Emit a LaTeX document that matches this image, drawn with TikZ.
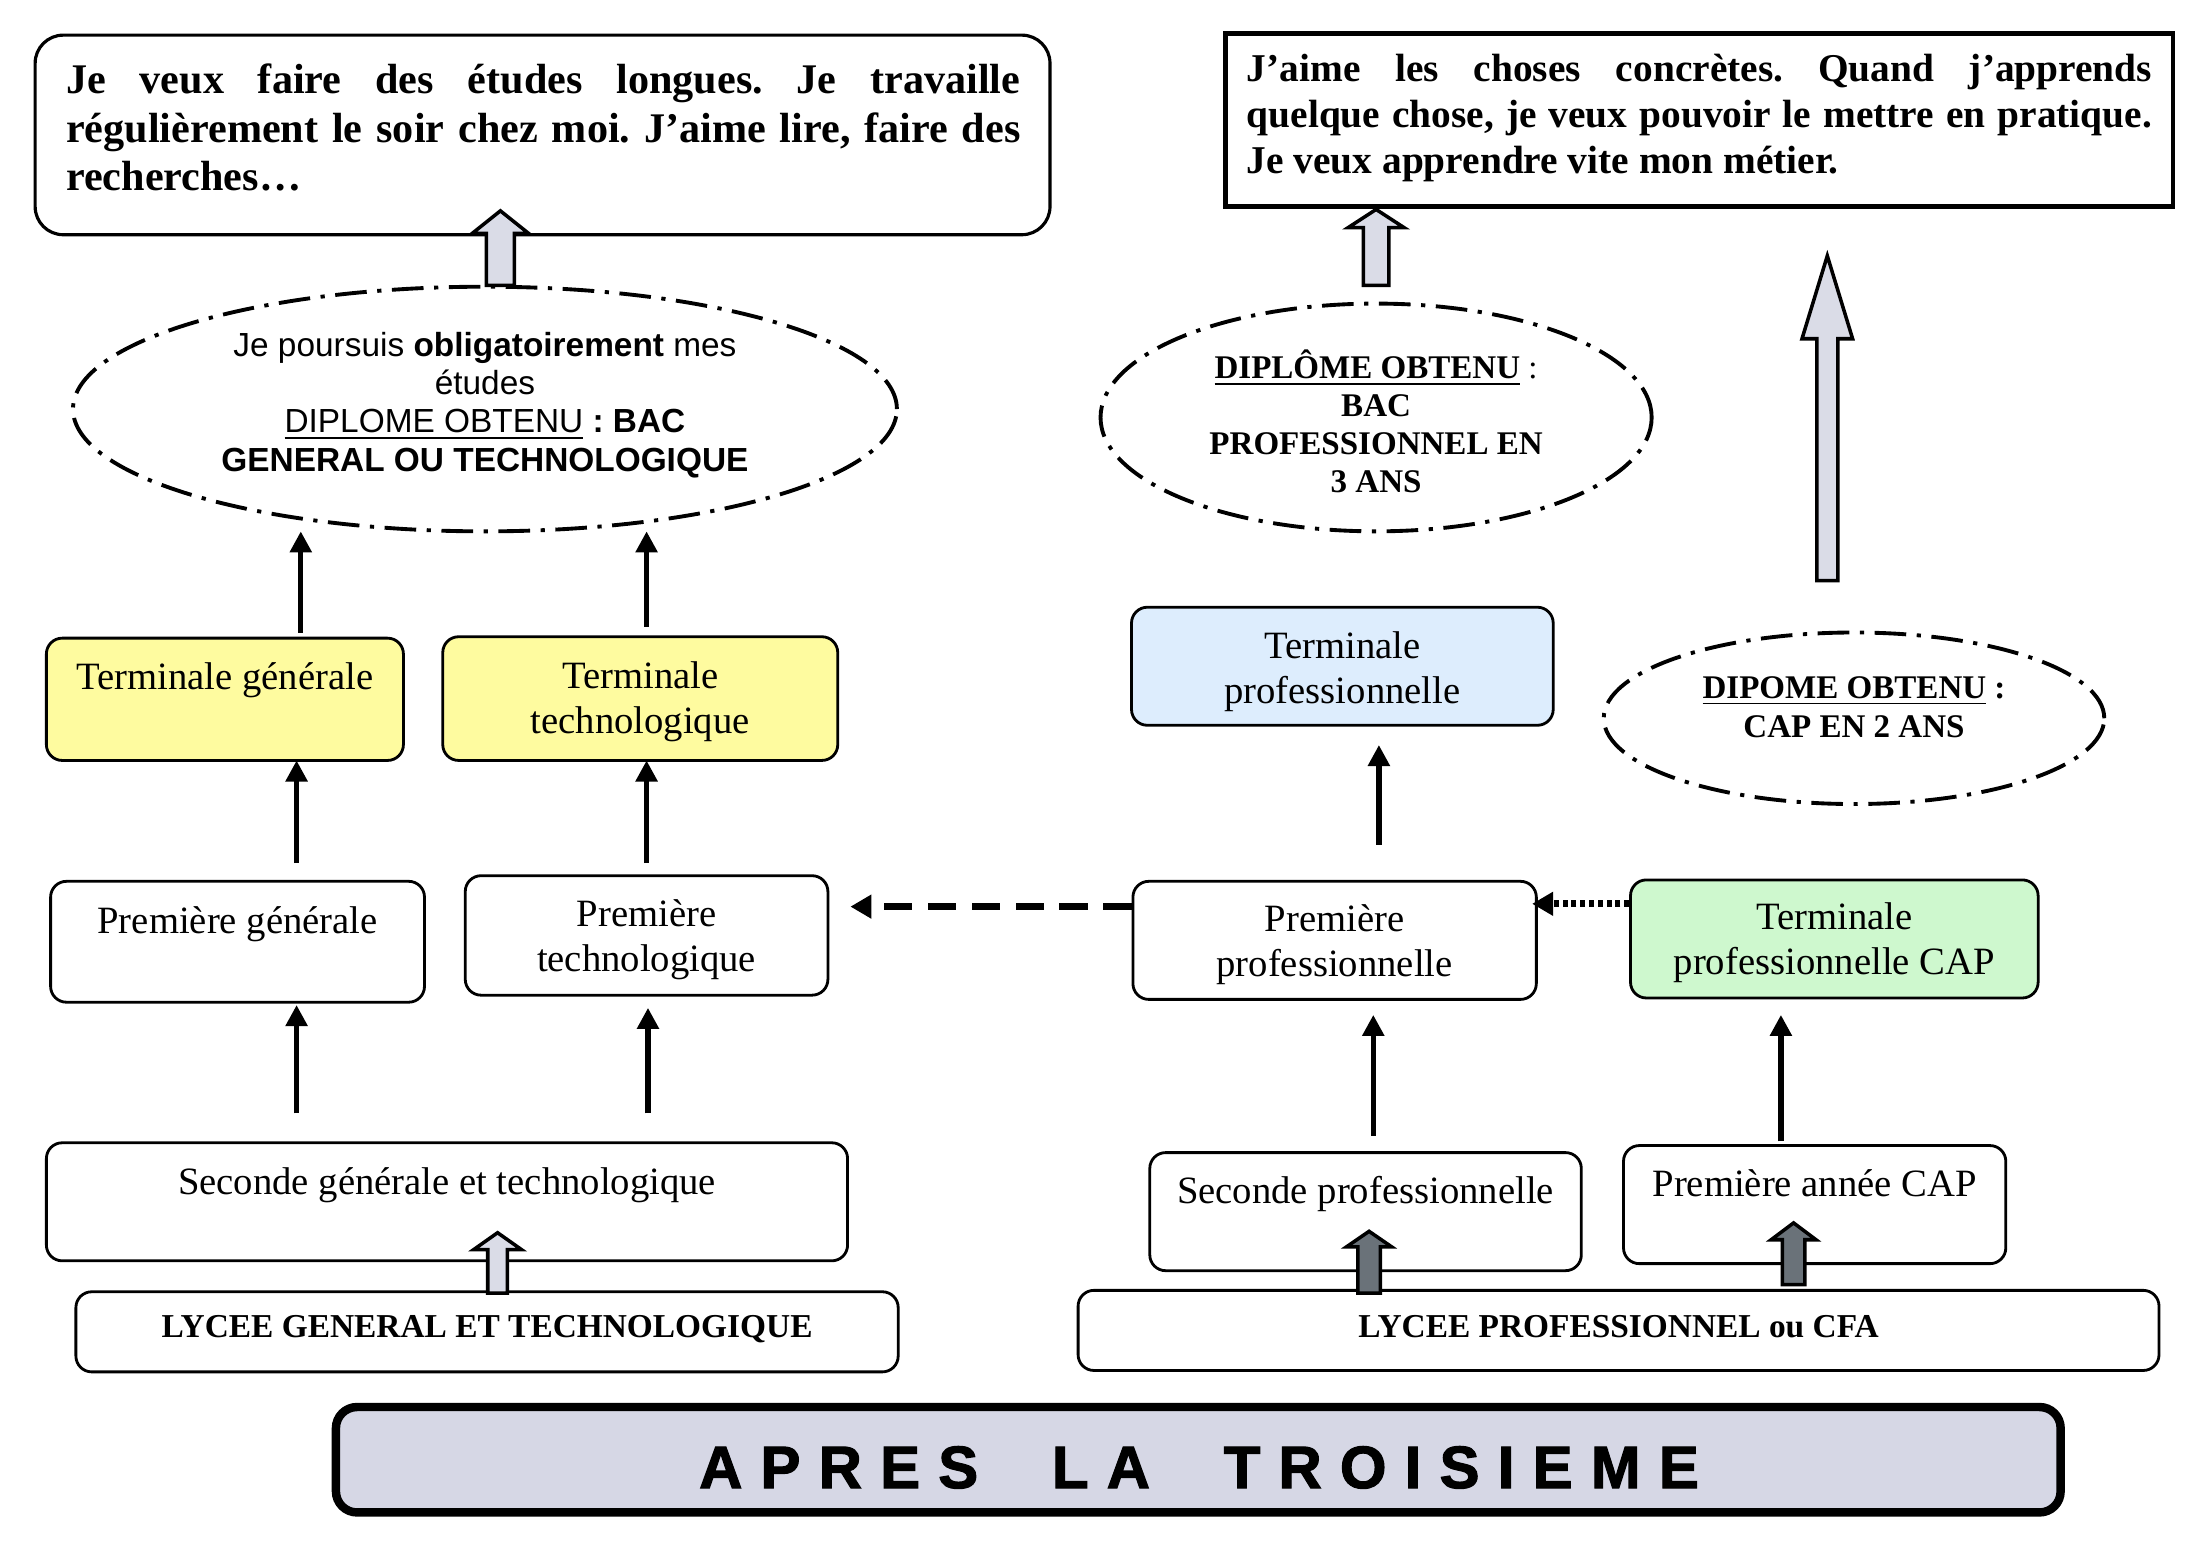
\documentclass[tikz,border=0pt]{standalone}
\usepackage{fontspec}
\setmainfont{Liberation Serif}
\setsansfont{Liberation Sans}
\newfontfamily\titlefont{Liberation Sans}[BoldFeatures={FakeBold=2}]
\usetikzlibrary{shapes.geometric,arrows.meta,fit,calc}
\definecolor{yel}{HTML}{FEFB9F}
\definecolor{blu}{HTML}{DDEDFD}
\definecolor{grn}{HTML}{CEF8CE}
\definecolor{fatlight}{HTML}{DADCE7}
\definecolor{fatdark}{HTML}{6A7279}
\definecolor{banner}{HTML}{D6D7E5}
% #1 bottom coordinate, #2 tip coordinate, #3 shaft half width, #4 head half width, #5 head length, #6 fill
\newcommand\fatarrow[6]{%
  \filldraw[fat, fill=#6] ($(#1)+(-#3,0)$) -- ($(#2)+(-#3,#5)$) -- ($(#2)+(-#4,#5)$) -- (#2)
    -- ($(#2)+(#4,#5)$) -- ($(#2)+(#3,#5)$) -- ($(#1)+(#3,0)$) -- cycle;}
\newcommand\ltsp{\hspace{5.2pt}}
\frenchspacing
\begin{document}
\begin{tikzpicture}[x=0.014056cm, y=-0.014056cm,
  box/.style={draw, rounded corners=4.5pt, line width=0.8pt, inner sep=0pt},
  btxt/.style={inner sep=0pt, align=center, font=\fontsize{11}{12.8}\selectfont},
  ltxt/.style={inner sep=0pt, align=center, font=\bfseries\fontsize{9.5}{11}\selectfont},
  ell/.style={draw, ellipse, line width=1.1pt, dash pattern=on 9pt off 3pt on 1.2pt off 3pt, inner sep=0pt},
  arr/.style={line width=1.5pt, -{Triangle[width=6pt,length=6pt]}},
  fat/.style={draw, line width=1pt},
]
\useasboundingbox (0,0) rectangle (1568,1106);

% ---------- top boxes ----------
\node[fit={(25,25) (747,167)}, draw, rounded corners=8pt, line width=0.9pt, inner sep=0pt] (tlbox) {};
\node[font=\bfseries\fontsize{12}{13.8}\selectfont, align=left, inner sep=0pt] (tltext) at (386.5,91)
  {\makebox[9.54cm][s]{Je veux faire des études longues. Je travaille}\\
   \makebox[9.54cm][s]{régulièrement le soir chez moi. J’aime lire, faire des}\\
   recherches…};

\node[fit={(872,24) (1546,147)}, draw, line width=1.3pt, inner sep=0pt] (trbox) {};
\node[font=\bfseries\fontsize{11.2}{13.2}\selectfont, align=left, inner sep=0pt] (trtext) at (1209,84)
  {\makebox[9.05cm][s]{J’aime les choses concrètes. Quand j’apprends}\\
   \makebox[9.05cm][s]{quelque chose, je veux pouvoir le mettre en pratique.}\\
   Je veux apprendre vite mon métier.};

% ---------- ellipses ----------
\node[ell, minimum width=8.237cm, minimum height=2.446cm] (ellL) at (345,291) {};
\node[align=center, inner sep=0pt, font=\sffamily\fontsize{9.5}{10.9}\selectfont] (ellLt) at (345,288)
  {Je poursuis \textbf{obligatoirement} mes\\études\\\underline{DIPLOME OBTENU} \textbf{: BAC}\\
   \textbf{GENERAL OU TECHNOLOGIQUE}};

\node[ell, minimum width=5.510cm, minimum height=2.277cm] (ellR) at (979,297) {};
\node[align=center, inner sep=0pt, font=\fontsize{9.4}{10.8}\selectfont] (ellRt) at (979,300)
  {\textbf{\underline{DIPLÔME OBTENU}} :\\\textbf{BAC}\\\textbf{PROFESSIONNEL EN}\\\textbf{3 ANS}};

\node[ell, minimum width=5.004cm, minimum height=1.715cm] (ellC) at (1319,511) {};
\node[align=center, inner sep=0pt, font=\bfseries\fontsize{9.4}{11.2}\selectfont] (ellCt) at (1319,503)
  {\underline{DIPOME OBTENU} :\\CAP EN 2 ANS};

% ---------- left column ----------
\node[box, fill=yel, fit={(33,454) (287,541)}] (tg) {};
\node[btxt] (tg-t) at ($(tg.center)+(0,2)$) {Terminale générale\\[2pt]\mbox{}};
\node[box, fill=yel, fit={(315,453) (596,541)}] (tt) {};
\node[btxt] (tt-t) at ($(tt.center)+(0,2)$) {Terminale\\technologique};
\node[box, fit={(36,627) (302,713)}] (pg) {};
\node[btxt] (pg-t) at ($(pg.center)+(0,3)$) {Première générale\\[2pt]\mbox{}};
\node[box, fit={(331,623) (589,708)}] (pt) {};
\node[btxt] (pt-t) at ($(pt.center)+(0,3)$) {Première\\technologique};
\node[box, fit={(33,813) (603,897)}] (sgt) {};
\node[btxt] (sgt-t) at ($(sgt.center)+(0,4)$) {Seconde générale et technologique\\[2pt]\mbox{}};
\node[box, fit={(54,919) (639,976)}] (lgt) {};
\node[ltxt] (lgt-t) at ($(lgt.center)+(0,-2)$) {LYCEE GENERAL ET TECHNOLOGIQUE};

% ---------- right column ----------
\node[box, fill=blu, fit={(805,432) (1105,516)}] (tp) {};
\node[btxt] (tp-t) at ($(tp.center)+(0,4)$) {Terminale\\professionnelle};
\node[box, fit={(806,627) (1093,711)}] (pp) {};
\node[btxt] (pp-t) at ($(pp.center)+(0,3)$) {Première\\professionnelle};
\node[box, fill=grn, fit={(1160,626) (1450,710)}] (tpc) {};
\node[btxt] (tpc-t) at ($(tpc.center)+(0,3)$) {Terminale\\professionnelle CAP};
\node[box, fit={(818,820) (1125,904)}] (sp) {};
\node[btxt] (sp-t) at ($(sp.center)+(0,3)$) {Seconde professionnelle\\[2pt]\mbox{}};
\node[box, fit={(1155,815) (1427,899)}] (pac) {};
\node[btxt] (pac-t) at ($(pac.center)+(0,3)$) {Première année CAP\\[2pt]\mbox{}};
\node[box, fit={(767,918) (1536,975)}] (lpc) {};
\node[ltxt] (lpc-t) at ($(lpc.center)+(0,-3)$) {LYCEE PROFESSIONNEL ou CFA};

% ---------- title ----------
\node[fit={(239,1001) (1466,1076)}, draw, line width=2.4pt, rounded corners=6pt, fill=banner, inner sep=0pt] (title) {};
\node[inner sep=0pt, font=\titlefont\bfseries\fontsize{17}{20}\selectfont] (titletext) at (853,1044)
  {A\ltsp P\ltsp R\ltsp E\ltsp S\hspace{21pt}L\ltsp A\hspace{21pt}T\ltsp R\ltsp O\ltsp I\ltsp S\ltsp I\ltsp E\ltsp M\ltsp E};

% ---------- black arrows ----------
\coordinate (a1s) at (214,450); \coordinate (a1e) at (214,378);
\coordinate (a2s) at (460,446); \coordinate (a2e) at (460,378);
\coordinate (a3s) at (211,614); \coordinate (a3e) at (211,541);
\coordinate (a4s) at (460,614); \coordinate (a4e) at (460,541);
\coordinate (a5s) at (211,792); \coordinate (a5e) at (211,715);
\coordinate (a6s) at (461,792); \coordinate (a6e) at (461,717);
\coordinate (a7s) at (981,601); \coordinate (a7e) at (981,530);
\coordinate (a8s) at (977,808); \coordinate (a8e) at (977,722);
\coordinate (a9s) at (1267,812); \coordinate (a9e) at (1267,722);
\foreach \i in {1,...,9} {\draw[arr] (a\i s) -- (a\i e);}

\coordinate (dse) at (605,645);
\draw[line width=2pt, dash pattern=on 8pt off 4.5pt, -{Triangle[width=6.5pt,length=6pt]}] (pp.west |- dse) -- (dse);
\coordinate (dte) at (1090,643);
\draw[line width=2pt, dash pattern=on 1.4pt off 1.1pt, -{Triangle[width=6.5pt,length=6pt]}] (tpc.west |- dte) -- (dte);

% ---------- block arrows ----------
\coordinate (b1s) at (356,203); \coordinate (b1e) at (356,150);
\fatarrow{b1s}{b1e}{10}{20}{16}{fatlight}
\coordinate (b2s) at (979,203); \coordinate (b2e) at (979,149);
\fatarrow{b2s}{b2e}{9}{20}{13}{fatlight}
\coordinate (b3s) at (1300,413); \coordinate (b3e) at (1300,182);
\fatarrow{b3s}{b3e}{7.5}{18}{59}{fatlight}
\coordinate (b4s) at (354,920); \coordinate (b4e) at (354,877);
\fatarrow{b4s}{b4e}{7}{17}{12}{fatlight}
\coordinate (b5s) at (974,920); \coordinate (b5e) at (974,876);
\fatarrow{b5s}{b5e}{8}{16}{11}{fatdark}
\coordinate (b6s) at (1276,914); \coordinate (b6e) at (1276,870);
\fatarrow{b6s}{b6e}{8}{16}{12}{fatdark}
\end{tikzpicture}
\end{document}
